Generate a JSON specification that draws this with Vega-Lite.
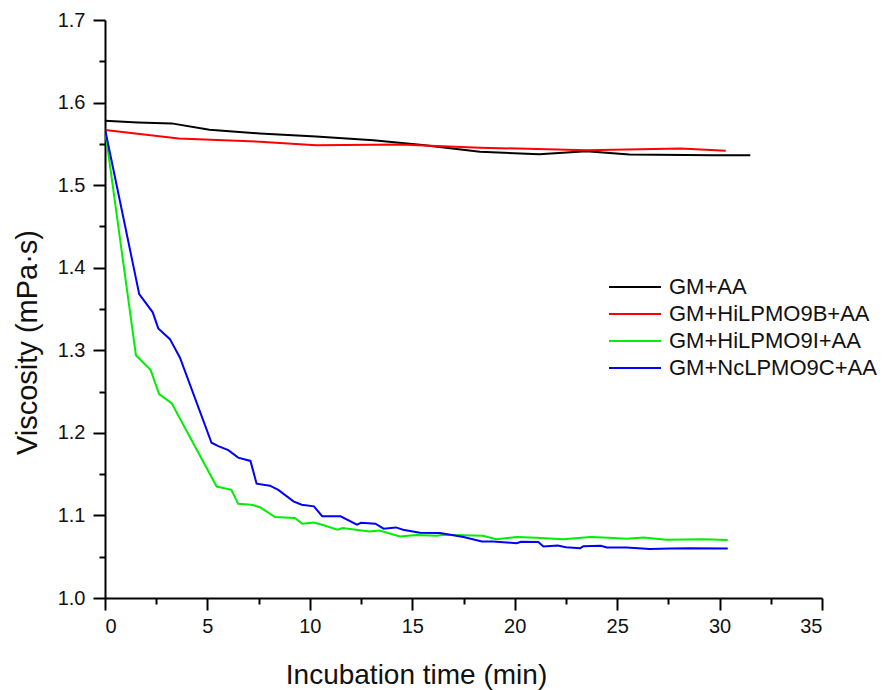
{
  "$schema": "https://vega.github.io/schema/vega-lite/v6.json",
  "width": 717,
  "height": 578,
  "autosize": {"type": "none"},
  "padding": {"left": 105, "top": 20, "right": 62, "bottom": 92},
  "background": "white",
  "config": {
    "view": {"stroke": null},
    "font": "Liberation Sans"
  },
  "data": {
    "values": [
      {"s": "GM+AA", "t": 0, "v": 1.578},
      {"s": "GM+AA", "t": 1.6, "v": 1.576},
      {"s": "GM+AA", "t": 3.25, "v": 1.5748},
      {"s": "GM+AA", "t": 5.1, "v": 1.567},
      {"s": "GM+AA", "t": 7.56, "v": 1.5626},
      {"s": "GM+AA", "t": 10.3, "v": 1.559},
      {"s": "GM+AA", "t": 13.1, "v": 1.5545},
      {"s": "GM+AA", "t": 15.5, "v": 1.5485},
      {"s": "GM+AA", "t": 18.3, "v": 1.5404},
      {"s": "GM+AA", "t": 21.2, "v": 1.5375},
      {"s": "GM+AA", "t": 23.5, "v": 1.5411},
      {"s": "GM+AA", "t": 25.6, "v": 1.5371},
      {"s": "GM+AA", "t": 29.7, "v": 1.5363},
      {"s": "GM+AA", "t": 31.5, "v": 1.5363},
      {"s": "GM+HiLPMO9B+AA", "t": 0, "v": 1.5667},
      {"s": "GM+HiLPMO9B+AA", "t": 3.6, "v": 1.5566},
      {"s": "GM+HiLPMO9B+AA", "t": 7.56, "v": 1.5526},
      {"s": "GM+HiLPMO9B+AA", "t": 10.3, "v": 1.5484},
      {"s": "GM+HiLPMO9B+AA", "t": 14.4, "v": 1.5493},
      {"s": "GM+HiLPMO9B+AA", "t": 18.3, "v": 1.5453},
      {"s": "GM+HiLPMO9B+AA", "t": 23.5, "v": 1.5424},
      {"s": "GM+HiLPMO9B+AA", "t": 28.1, "v": 1.5444},
      {"s": "GM+HiLPMO9B+AA", "t": 30.3, "v": 1.5416},
      {"s": "GM+HiLPMO9I+AA", "t": 0, "v": 1.568},
      {"s": "GM+HiLPMO9I+AA", "t": 1.51, "v": 1.294},
      {"s": "GM+HiLPMO9I+AA", "t": 2.23, "v": 1.276},
      {"s": "GM+HiLPMO9I+AA", "t": 2.64, "v": 1.247},
      {"s": "GM+HiLPMO9I+AA", "t": 3.25, "v": 1.236},
      {"s": "GM+HiLPMO9I+AA", "t": 5.45, "v": 1.135},
      {"s": "GM+HiLPMO9I+AA", "t": 6.17, "v": 1.131},
      {"s": "GM+HiLPMO9I+AA", "t": 6.5, "v": 1.114},
      {"s": "GM+HiLPMO9I+AA", "t": 7.15, "v": 1.113},
      {"s": "GM+HiLPMO9I+AA", "t": 7.56, "v": 1.11},
      {"s": "GM+HiLPMO9I+AA", "t": 8.3, "v": 1.098},
      {"s": "GM+HiLPMO9I+AA", "t": 9.27, "v": 1.097},
      {"s": "GM+HiLPMO9I+AA", "t": 9.63, "v": 1.09},
      {"s": "GM+HiLPMO9I+AA", "t": 10.2, "v": 1.0915},
      {"s": "GM+HiLPMO9I+AA", "t": 10.6, "v": 1.0887},
      {"s": "GM+HiLPMO9I+AA", "t": 11.35, "v": 1.0826},
      {"s": "GM+HiLPMO9I+AA", "t": 11.6, "v": 1.0847},
      {"s": "GM+HiLPMO9I+AA", "t": 12.9, "v": 1.0806},
      {"s": "GM+HiLPMO9I+AA", "t": 13.4, "v": 1.0818},
      {"s": "GM+HiLPMO9I+AA", "t": 14.4, "v": 1.0745},
      {"s": "GM+HiLPMO9I+AA", "t": 15.2, "v": 1.0762},
      {"s": "GM+HiLPMO9I+AA", "t": 16.2, "v": 1.0753},
      {"s": "GM+HiLPMO9I+AA", "t": 16.5, "v": 1.0765},
      {"s": "GM+HiLPMO9I+AA", "t": 18.45, "v": 1.0753},
      {"s": "GM+HiLPMO9I+AA", "t": 19.1, "v": 1.0713},
      {"s": "GM+HiLPMO9I+AA", "t": 20.1, "v": 1.0738},
      {"s": "GM+HiLPMO9I+AA", "t": 21.07, "v": 1.0729},
      {"s": "GM+HiLPMO9I+AA", "t": 22.37, "v": 1.0713},
      {"s": "GM+HiLPMO9I+AA", "t": 23.7, "v": 1.0738},
      {"s": "GM+HiLPMO9I+AA", "t": 24.6, "v": 1.0729},
      {"s": "GM+HiLPMO9I+AA", "t": 25.45, "v": 1.0717},
      {"s": "GM+HiLPMO9I+AA", "t": 26.3, "v": 1.0733},
      {"s": "GM+HiLPMO9I+AA", "t": 27.4, "v": 1.0705},
      {"s": "GM+HiLPMO9I+AA", "t": 29.2, "v": 1.0713},
      {"s": "GM+HiLPMO9I+AA", "t": 30.4, "v": 1.0701},
      {"s": "GM+NcLPMO9C+AA", "t": 0, "v": 1.568},
      {"s": "GM+NcLPMO9C+AA", "t": 1.67, "v": 1.368},
      {"s": "GM+NcLPMO9C+AA", "t": 2.33, "v": 1.346},
      {"s": "GM+NcLPMO9C+AA", "t": 2.6, "v": 1.3265},
      {"s": "GM+NcLPMO9C+AA", "t": 3.17, "v": 1.3135},
      {"s": "GM+NcLPMO9C+AA", "t": 3.66, "v": 1.291},
      {"s": "GM+NcLPMO9C+AA", "t": 5.2, "v": 1.188},
      {"s": "GM+NcLPMO9C+AA", "t": 5.53, "v": 1.184},
      {"s": "GM+NcLPMO9C+AA", "t": 6.02, "v": 1.179},
      {"s": "GM+NcLPMO9C+AA", "t": 6.5, "v": 1.17},
      {"s": "GM+NcLPMO9C+AA", "t": 7.1, "v": 1.166},
      {"s": "GM+NcLPMO9C+AA", "t": 7.4, "v": 1.1385},
      {"s": "GM+NcLPMO9C+AA", "t": 8.05, "v": 1.136},
      {"s": "GM+NcLPMO9C+AA", "t": 8.46, "v": 1.131},
      {"s": "GM+NcLPMO9C+AA", "t": 9.2, "v": 1.117},
      {"s": "GM+NcLPMO9C+AA", "t": 9.6, "v": 1.113},
      {"s": "GM+NcLPMO9C+AA", "t": 10.2, "v": 1.111},
      {"s": "GM+NcLPMO9C+AA", "t": 10.6, "v": 1.099},
      {"s": "GM+NcLPMO9C+AA", "t": 11.5, "v": 1.099},
      {"s": "GM+NcLPMO9C+AA", "t": 12.3, "v": 1.0887},
      {"s": "GM+NcLPMO9C+AA", "t": 12.5, "v": 1.091},
      {"s": "GM+NcLPMO9C+AA", "t": 13.2, "v": 1.09},
      {"s": "GM+NcLPMO9C+AA", "t": 13.6, "v": 1.084},
      {"s": "GM+NcLPMO9C+AA", "t": 14.2, "v": 1.0855},
      {"s": "GM+NcLPMO9C+AA", "t": 14.55, "v": 1.0826},
      {"s": "GM+NcLPMO9C+AA", "t": 15.37, "v": 1.079},
      {"s": "GM+NcLPMO9C+AA", "t": 16.35, "v": 1.0786},
      {"s": "GM+NcLPMO9C+AA", "t": 17.5, "v": 1.0738},
      {"s": "GM+NcLPMO9C+AA", "t": 18.4, "v": 1.0684},
      {"s": "GM+NcLPMO9C+AA", "t": 18.95, "v": 1.0684},
      {"s": "GM+NcLPMO9C+AA", "t": 20.1, "v": 1.0664},
      {"s": "GM+NcLPMO9C+AA", "t": 20.3, "v": 1.068},
      {"s": "GM+NcLPMO9C+AA", "t": 21.15, "v": 1.0677},
      {"s": "GM+NcLPMO9C+AA", "t": 21.4, "v": 1.0624},
      {"s": "GM+NcLPMO9C+AA", "t": 22.1, "v": 1.0636},
      {"s": "GM+NcLPMO9C+AA", "t": 22.5, "v": 1.0616},
      {"s": "GM+NcLPMO9C+AA", "t": 23.2, "v": 1.0604},
      {"s": "GM+NcLPMO9C+AA", "t": 23.35, "v": 1.0628},
      {"s": "GM+NcLPMO9C+AA", "t": 24.2, "v": 1.0632},
      {"s": "GM+NcLPMO9C+AA", "t": 24.5, "v": 1.0611},
      {"s": "GM+NcLPMO9C+AA", "t": 25.45, "v": 1.0611},
      {"s": "GM+NcLPMO9C+AA", "t": 26.6, "v": 1.0592},
      {"s": "GM+NcLPMO9C+AA", "t": 27.6, "v": 1.0599},
      {"s": "GM+NcLPMO9C+AA", "t": 28.55, "v": 1.0604},
      {"s": "GM+NcLPMO9C+AA", "t": 30.4, "v": 1.0599}
    ]
  },
  "layer": [
    {
      "mark": {"type": "line", "strokeWidth": 2, "clip": true},
      "encoding": {
        "x": {
          "field": "t", "type": "quantitative",
          "scale": {"domain": [0, 35], "nice": false, "zero": false},
          "axis": {
            "title": "Incubation time (min)",
            "values": [0, 5, 10, 15, 20, 25, 30, 35],
            "grid": false,
            "domainColor": "black", "domainWidth": 2,
            "tickColor": "black", "tickWidth": 2, "tickSize": 12,
            "labelFont": "Liberation Sans", "labelFontSize": 20, "labelColor": "#111",
            "labelPadding": 6,
            "titleFont": "Liberation Sans", "titleFontSize": 28, "titleFontWeight": "normal", "titleColor": "#111",
            "titleX": 311,
            "titleY": 85,
            "titleBaseline": "alphabetic"
          }
        },
        "y": {
          "field": "v", "type": "quantitative",
          "scale": {"domain": [1.0, 1.7], "nice": false, "zero": false},
          "axis": {
            "title": "Viscosity (mPa·s)",
            "values": [1.0, 1.1, 1.2, 1.3, 1.4, 1.5, 1.6, 1.7],
            "format": ".1f",
            "grid": false,
            "domainColor": "black", "domainWidth": 2,
            "tickColor": "black", "tickWidth": 2, "tickSize": 12,
            "labelFont": "Liberation Sans", "labelFontSize": 20, "labelColor": "#111",
            "labelPadding": 8,
            "titleFont": "Liberation Sans", "titleFontSize": 29, "titleFontWeight": "normal", "titleColor": "#111",
            "titleX": -69,
            "titleY": 322,
            "titleBaseline": "alphabetic"
          }
        },
        "color": {
          "field": "s", "type": "nominal",
          "scale": {
            "domain": ["GM+AA", "GM+HiLPMO9B+AA", "GM+HiLPMO9I+AA", "GM+NcLPMO9C+AA"],
            "range": ["#000000", "#ff0000", "#00ee00", "#0000ff"]
          },
          "legend": {
            "title": null,
            "orient": "none",
            "legendX": 516,
            "legendY": 253,
            "symbolType": "M-2,0H2",
            "symbolStrokeWidth": 2,
            "symbolSize": 676,
            "labelFont": "Liberation Sans",
            "labelFontSize": 22,
            "labelColor": "#111",
            "rowPadding": 2,
            "labelOffset": 20,
            "labelLimit": 300
          }
        }
      }
    },
    {
      "mark": {"type": "point", "opacity": 0},
      "encoding": {
        "x": {
          "field": "t", "type": "quantitative",
          "scale": {"domain": [0, 35], "nice": false, "zero": false},
          "axis": {
            "orient": "bottom",
            "title": null,
            "values": [2.5, 7.5, 12.5, 17.5, 22.5, 27.5, 32.5],
            "labels": false, "domain": false, "grid": false,
            "tickColor": "black", "tickWidth": 2, "tickSize": 6
          }
        },
        "y": {
          "field": "v", "type": "quantitative",
          "scale": {"domain": [1.0, 1.7], "nice": false, "zero": false},
          "axis": {
            "orient": "left",
            "title": null,
            "values": [1.05, 1.15, 1.25, 1.35, 1.45, 1.55, 1.65],
            "labels": false, "domain": false, "grid": false,
            "tickColor": "black", "tickWidth": 2, "tickSize": 6
          }
        }
      }
    }
  ],
  "resolve": {"axis": {"x": "independent", "y": "independent"}}
}
